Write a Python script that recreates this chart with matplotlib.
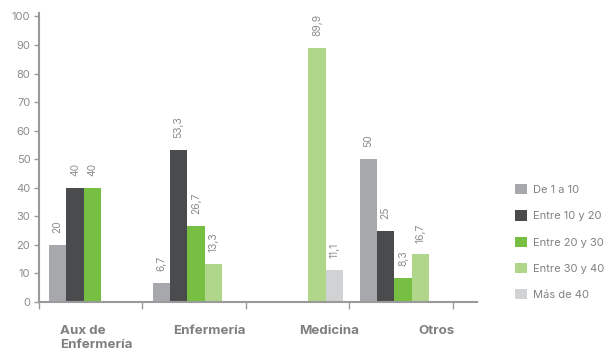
import matplotlib
matplotlib.use("Agg")
import matplotlib.pyplot as plt
from matplotlib.patches import Patch
import numpy as np

plt.rcParams['font.family'] = ['Inter', 'DejaVu Sans']

categories = ["Aux de\nEnfermería", "Enfermería", "Medicina", "Otros"]
series_names = ["De 1 a 10", "Entre 10 y 20", "Entre 20 y 30", "Entre 30 y 40", "Más de 40"]
de_1_a_10 = [20, 6.7, None, 50]
entre_10_y_20 = [40, 53.3, None, 25]
entre_20_y_30 = [40, 26.7, None, 8.3]
entre_30_y_40 = [None, 13.3, 88.9, 16.7]
mas_de_40 = [None, None, 11.1, None]
series_values = [de_1_a_10, entre_10_y_20, entre_20_y_30, entre_30_y_40, mas_de_40]
# value labels as printed in the chart
de_1_a_10_labels = ["20", "6,7", None, "50"]
entre_10_y_20_labels = ["40", "53,3", None, "25"]
entre_20_y_30_labels = ["40", "26,7", None, "8,3"]
entre_30_y_40_labels = [None, "13,3", "89,9", "16,7"]
mas_de_40_labels = [None, None, "11,1", None]
series_labels = [de_1_a_10_labels, entre_10_y_20_labels, entre_20_y_30_labels,
                 entre_30_y_40_labels, mas_de_40_labels]
yticks = [0, 10, 20, 30, 40, 50, 60, 70, 80, 90, 100]

colors = ["#a7a8ab", "#4a4b4d", "#77bf43", "#b0d68a", "#d1d2d4"]
label_color = "#8c8c8c"
axis_color = "#9a9a9a"

W, H = 607, 351
fig = plt.figure(figsize=(W / 100, H / 100), dpi=100)
ax = fig.add_axes([38.7 / W, 1 - 302 / H, (477 - 38.7) / W, (302 - 13) / H])

n = len(series_names)
bw = 0.168
x = np.arange(len(categories))
for i, (name, vals, labs, c) in enumerate(zip(series_names, series_values, series_labels, colors)):
    off = (i - (n - 1) / 2) * bw + 0.02
    for j, v in enumerate(vals):
        if v is None:
            continue
        ax.bar(x[j] + off, v, width=bw, color=c, linewidth=0)
        ax.annotate(labs[j], (x[j] + off, v), xytext=(0, 8.5), textcoords="offset points",
                    rotation=90, ha="center", va="bottom", fontsize=7.4, color=label_color)

ax.set_xlim(-0.5, 3.735)
ax.set_ylim(0, 101.2)
ax.set_yticks(yticks)
ax.set_yticklabels([str(t) for t in yticks])

# category boundary tick marks
ax.set_xticks(np.arange(-0.5, len(categories), 1.0), minor=True)
ax.tick_params(axis="x", which="minor", length=5, width=1, color=axis_color, direction="out")
# category labels
label_pos = [0.055, 1.145, 2.305, 3.345]
ax.set_xticks(label_pos)
ax.set_xticklabels(categories, fontsize=9.6, fontweight="bold", color="#7f7f80",
                   multialignment="left", linespacing=1.25)
ax.tick_params(axis="x", which="major", length=0, pad=16.5)
ax.tick_params(axis="y", length=3.5, width=1, color=axis_color, pad=2.5,
               labelsize=8, labelcolor=label_color)

for s in ["top", "right"]:
    ax.spines[s].set_visible(False)
for s in ["left", "bottom"]:
    ax.spines[s].set_color(axis_color)
    ax.spines[s].set_linewidth(1.5)

handles = [Patch(facecolor=c, edgecolor="none", label=nm) for c, nm in zip(colors, series_names)]
leg = fig.legend(handles=handles, loc="upper left", bbox_to_anchor=(515 / W, 1 - 184 / H),
                 frameon=False, fontsize=8, handlelength=1.05, handleheight=1.05,
                 handletextpad=0.6, labelspacing=1.38, borderpad=0, borderaxespad=0)
for t in leg.get_texts():
    t.set_color("#808183")

fig.savefig("out.png", dpi=100)
